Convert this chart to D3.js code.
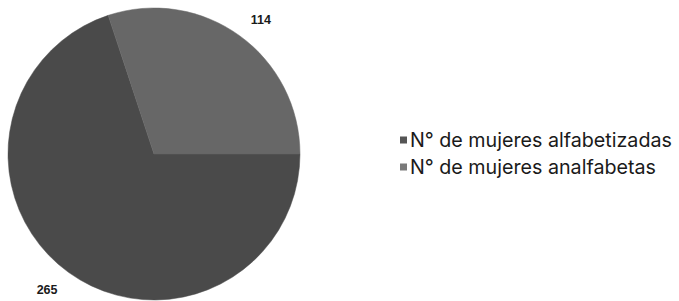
<!DOCTYPE html>
<html>
<head>
<meta charset="utf-8">
<script src="https://cdn.jsdelivr.net/npm/d3@7"></script>
<style>
  html, body { margin: 0; padding: 0; background: #ffffff; }
  svg { display: block; }
</style>
</head>
<body>
<svg id="chart" width="679" height="301"></svg>
<script>
const categories = ["N° de mujeres alfabetizadas", "N° de mujeres analfabetas"];
const values = [265, 114];
const valueLabels = ["265", "114"];
const colors = ["#4a4a4a", "#676767"];

const svg = d3.select("#chart");
const cx = 154, cy = 154, radius = 146, labelRadius = 172;

const pie = d3.pie().sort(null).value(d => d)
  .startAngle(Math.PI / 2).endAngle(Math.PI / 2 + 2 * Math.PI);
const arcs = pie(values);
const arc = d3.arc().innerRadius(0).outerRadius(radius);

const g = svg.append("g").attr("transform", `translate(${cx},${cy})`);
g.selectAll("path.slice").data(arcs).enter().append("path")
  .attr("class", "slice")
  .attr("d", arc)
  .attr("fill", (d, i) => colors[i])
  .attr("stroke", (d, i) => colors[i])
  .attr("stroke-width", 0.5);

const labelOffset = 0.045;
g.selectAll("text.val").data(arcs).enter().append("text")
  .attr("class", "val")
  .attr("x", d => labelRadius * Math.sin((d.startAngle + d.endAngle) / 2 + labelOffset))
  .attr("y", d => -labelRadius * Math.cos((d.startAngle + d.endAngle) / 2 + labelOffset))
  .attr("dy", "0.4em")
  .attr("text-anchor", "middle")
  .attr("font-family", "'Liberation Sans', Arial, sans-serif")
  .attr("font-weight", "bold")
  .attr("font-size", 12.5)
  .attr("fill", "#1a1a1a")
  .text((d, i) => valueLabels[i]);

// legend
const legend = svg.append("g").attr("transform", "translate(400,140)");
const rowH = 27;
const items = legend.selectAll("g.item").data(categories).enter().append("g")
  .attr("class", "item")
  .attr("transform", (d, i) => `translate(0,${i * rowH})`);
items.append("rect")
  .attr("x", 0).attr("y", -3.5).attr("width", 7).attr("height", 7)
  .attr("fill", (d, i) => i === 0 ? "#555555" : "#7a7a7a");
const texts = items.append("text")
  .attr("x", 10).attr("y", 0).attr("dy", "0.36em")
  .attr("font-family", "Inter, 'Noto Sans', sans-serif")
  .attr("font-size", 17.5)
  .attr("fill", "#1a1a1a")
  .text(d => d);
// fit the first legend entry to the measured width
const w0 = texts.node().getComputedTextLength();
const targetW = 262;
const fs = 17.5 * targetW / w0;
texts.attr("font-size", fs);
</script>
</body>
</html>
